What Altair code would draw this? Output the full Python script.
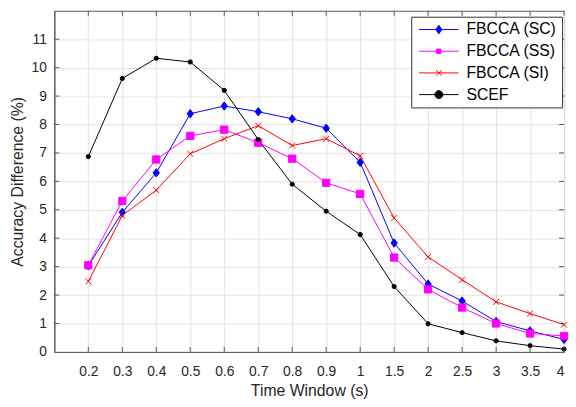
import altair as alt
import pandas as pd

x_labels = ["0.2", "0.3", "0.4", "0.5", "0.6", "0.7", "0.8", "0.9", "1",
            "1.5", "2", "2.5", "3", "3.5", "4"]
series_names = ["FBCCA (SC)", "FBCCA (SS)", "FBCCA (SI)", "SCEF"]
sc = [3.03, 4.91, 6.30, 8.38, 8.65, 8.45, 8.20, 7.87, 6.67, 3.83, 2.39, 1.79, 1.07, 0.74, 0.44]
ss = [3.05, 5.31, 6.77, 7.60, 7.82, 7.36, 6.80, 5.95, 5.56, 3.32, 2.20, 1.56, 1.00, 0.65, 0.56]
si = [2.48, 4.80, 5.69, 6.97, 7.50, 7.96, 7.26, 7.50, 6.90, 4.71, 3.34, 2.54, 1.76, 1.35, 0.96]
scef = [6.87, 9.62, 10.33, 10.20, 9.20, 7.47, 5.90, 4.95, 4.13, 2.30, 0.99, 0.68, 0.39, 0.22, 0.10]
y_ticks = list(range(0, 12))

colors = ["#0000FF", "#FF00FF", "#FF0000", "#000000"]
marker_paths = [
    "M-0.75,0L0,-1L0.75,0L0,1Z",
    "M-1,-1L1,-1L1,1L-1,1Z",
    "M-1,-1L1,1M-1,1L1,-1",
    "circle",
]
marker_sizes = [72, 18, 36, 64]
legend_paths = [
    "M-5,0L5,0M-0.75,0L0,-1.1L0.75,0L0,1.1Z",
    "M-5,0L5,0M-0.55,-0.55L0.55,-0.55L0.55,0.55L-0.55,0.55Z",
    "M-5,0L5,0M-0.7,-0.7L0.7,0.7M-0.7,0.7L0.7,-0.7",
    "M-5,0L5,0M-1,0A1,1 0 1,0 1,0A1,1 0 1,0 -1,0Z",
]

rows = []
for name, vals in zip(series_names, [sc, ss, si, scef]):
    for i, v in enumerate(vals):
        rows.append({"series": name, "pos": i + 1, "value": v})
df = pd.DataFrame(rows)

W, H = 517, 346
FONT = "Liberation Sans"
TXT = "#262626"
LINEC = "#555555"

label_expr = "[" + ",".join("'%s'" % s for s in [""] + x_labels) + "][datum.value]"

xscale = alt.Scale(domain=[0, len(x_labels)], nice=False, zero=False)
yscale = alt.Scale(domain=[0, 12], nice=False)
col_scale = alt.Scale(domain=series_names, range=colors)

x_axis = alt.Axis(values=list(range(1, len(x_labels) + 1)), labelExpr=label_expr,
                  title="Time Window (s)", grid=True, ticks=False, labelPadding=13,
                  titlePadding=4)
y_axis = alt.Axis(values=y_ticks, format="d", title="Accuracy Difference (%)",
                  grid=True, ticks=False, labelPadding=8, titlePadding=6)

X = alt.X("pos:Q", scale=xscale, axis=x_axis)
Y = alt.Y("value:Q", scale=yscale, axis=y_axis)

base = alt.Chart(df)

lines = base.mark_line(strokeWidth=1, opacity=1).encode(
    x=X, y=Y,
    color=alt.Color("series:N", scale=col_scale, legend=None),
    detail="series:N",
    order="pos:Q",
)

points = base.mark_point(opacity=1, strokeWidth=1).encode(
    x=X, y=Y,
    shape=alt.Shape("series:N", scale=alt.Scale(domain=series_names, range=marker_paths), legend=None),
    fill=alt.Fill("series:N", scale=alt.Scale(domain=series_names, range=colors), legend=None),
    stroke=alt.Stroke("series:N", scale=alt.Scale(domain=series_names, range=colors), legend=None),
    size=alt.Size("series:N", scale=alt.Scale(domain=series_names, range=marker_sizes), legend=None),
)

leg = alt.Legend(title=None, orient="none", legendX=362, legendY=6,
                 labelFont=FONT, labelFontSize=16, labelColor="#000000",
                 strokeColor="#333333", fillColor="#FFFFFF", padding=5,
                 symbolSize=64, symbolStrokeWidth=1, symbolOffset=15,
                 labelOffset=20, rowPadding=6, symbolOpacity=1)

legend_layer = base.mark_point(opacity=1, strokeWidth=1, size=64).encode(
    x=X, y=Y,
    shape=alt.Shape("series:N", scale=alt.Scale(domain=series_names, range=legend_paths), legend=leg),
    fill=alt.Fill("series:N", scale=alt.Scale(domain=series_names, range=colors), legend=leg),
    stroke=alt.Stroke("series:N", scale=alt.Scale(domain=series_names, range=colors), legend=leg),
).transform_filter("false")

xt = pd.DataFrame({"pos": list(range(1, len(x_labels) + 1))})
yt = pd.DataFrame({"value": y_ticks[1:]})
xt_bot = alt.Chart(xt).mark_rule(color=LINEC, strokeWidth=1).encode(
    x=X, y=alt.value(H), y2=alt.value(H - 5))
xt_top = alt.Chart(xt).mark_rule(color=LINEC, strokeWidth=1).encode(
    x=X, y=alt.value(0), y2=alt.value(5))
yt_left = alt.Chart(yt).mark_rule(color=LINEC, strokeWidth=1).encode(
    y=Y, x=alt.value(0), x2=alt.value(5))
yt_right = alt.Chart(yt).mark_rule(color=LINEC, strokeWidth=1).encode(
    y=Y, x=alt.value(W), x2=alt.value(W - 5))

chart = alt.layer(lines, points, legend_layer, xt_bot, xt_top, yt_left, yt_right).resolve_scale(
    shape="independent", fill="independent", stroke="independent"
).properties(
    width=W, height=H,
    autosize=alt.AutoSizeParams(type="none"),
    padding={"left": 47, "top": 0, "right": 4, "bottom": 52},
    background="#FFFFFF",
).configure_view(
    stroke=LINEC, strokeWidth=1
).configure_axis(
    labelFont=FONT, labelFontSize=14, labelColor=TXT,
    titleFont=FONT, titleFontSize=16, titleColor=TXT, titleFontWeight="normal",
    domainColor=LINEC, domainWidth=1, gridColor="#E3E3E3", gridWidth=1,
)

chart.save("out.html", embed_options={"renderer": "svg", "actions": False})
